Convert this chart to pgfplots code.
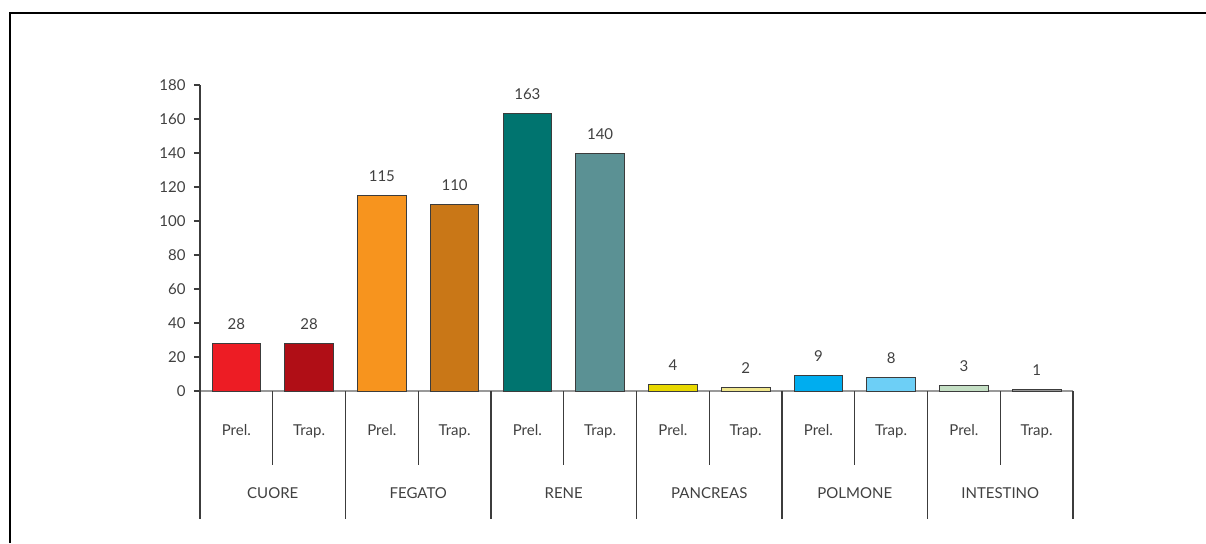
\documentclass[border=0pt]{standalone}
\usepackage{pgfplots}
\pgfplotsset{compat=1.18}
\usepackage{fontspec}
\setmainfont{Lato}

\definecolor{txt}{RGB}{64,64,64}
\definecolor{edge}{RGB}{60,60,60}
\definecolor{cuoreP}{RGB}{237,28,36}
\definecolor{cuoreT}{RGB}{176,14,22}
\definecolor{fegatoP}{RGB}{247,148,30}
\definecolor{fegatoT}{RGB}{201,119,23}
\definecolor{reneP}{RGB}{0,116,111}
\definecolor{reneT}{RGB}{91,145,148}
\definecolor{pancP}{RGB}{232,216,0}
\definecolor{pancT}{RGB}{240,230,140}
\definecolor{polmP}{RGB}{0,173,239}
\definecolor{polmT}{RGB}{109,207,246}
\definecolor{inteP}{RGB}{196,223,196}
\definecolor{inteT}{RGB}{150,150,150}

\begin{document}
\begin{tikzpicture}
\fontsize{7.5}{9}\selectfont
\useasboundingbox (0,0) rectangle (603pt,271.5pt);
\draw[black, line width=0.6pt] (5pt,0) -- (5pt,265pt) -- (603pt,265pt);

\begin{axis}[
at={(100pt,76pt)}, anchor=south west,
scale only axis,
width=436.5pt, height=153pt,
xmin=0, xmax=12, ymin=0, ymax=180,
ybar, bar width=0.67, bar shift=0,
axis x line*=bottom, axis y line*=left,
x axis line style={draw=gray!80, line width=0.6pt},
y axis line style={draw=edge, line width=0.6pt},
ytick={0,20,...,180},
ytick style={draw=edge, line width=0.6pt},
major tick length=3pt,
tick align=outside,
yticklabel style={text=txt, xshift=-1.5pt},
xtick={0.5,1.5,...,11.5},
xticklabels={Prel.,Trap.,Prel.,Trap.,Prel.,Trap.,Prel.,Trap.,Prel.,Trap.,Prel.,Trap.},
xtick style={draw=none},
xticklabel style={text=txt, anchor=base, yshift=-19pt},
/pgf/number format/assume math mode=true,
nodes near coords,
every node near coord/.append style={text=txt, anchor=base, yshift=7pt, inner sep=0pt},
every axis plot/.append style={draw=edge, line width=0.5pt},
clip=false,
]
\addplot[fill=cuoreP] coordinates {(0.5,28)};
\addplot[fill=cuoreT] coordinates {(1.5,28)};
\addplot[fill=fegatoP] coordinates {(2.5,115)};
\addplot[fill=fegatoT] coordinates {(3.5,110)};
\addplot[fill=reneP] coordinates {(4.5,163)};
\addplot[fill=reneT] coordinates {(5.5,140)};
\addplot[fill=pancP] coordinates {(6.5,4)};
\addplot[fill=pancT] coordinates {(7.5,2)};
\addplot[fill=polmP] coordinates {(8.5,9)};
\addplot[fill=polmT] coordinates {(9.5,8)};
\addplot[fill=inteP] coordinates {(10.5,3)};
\addplot[fill=inteT] coordinates {(11.5,1)};

% separators below the axis
\pgfplotsinvokeforeach{0,2,4,6,8,10,12}{
  \draw[edge, line width=0.6pt] (axis cs:#1,0) -- ++(0,-64pt);
}
\pgfplotsinvokeforeach{1,3,5,7,9,11}{
  \draw[edge, line width=0.6pt] (axis cs:#1,0) -- ++(0,-37pt);
}
\node[text=txt] at ([yshift=-51pt]axis cs:1,0) {CUORE};
\node[text=txt] at ([yshift=-51pt]axis cs:3,0) {FEGATO};
\node[text=txt] at ([yshift=-51pt]axis cs:5,0) {RENE};
\node[text=txt] at ([yshift=-51pt]axis cs:7,0) {PANCREAS};
\node[text=txt] at ([yshift=-51pt]axis cs:9,0) {POLMONE};
\node[text=txt] at ([yshift=-51pt]axis cs:11,0) {INTESTINO};
\end{axis}
\end{tikzpicture}
\end{document}
